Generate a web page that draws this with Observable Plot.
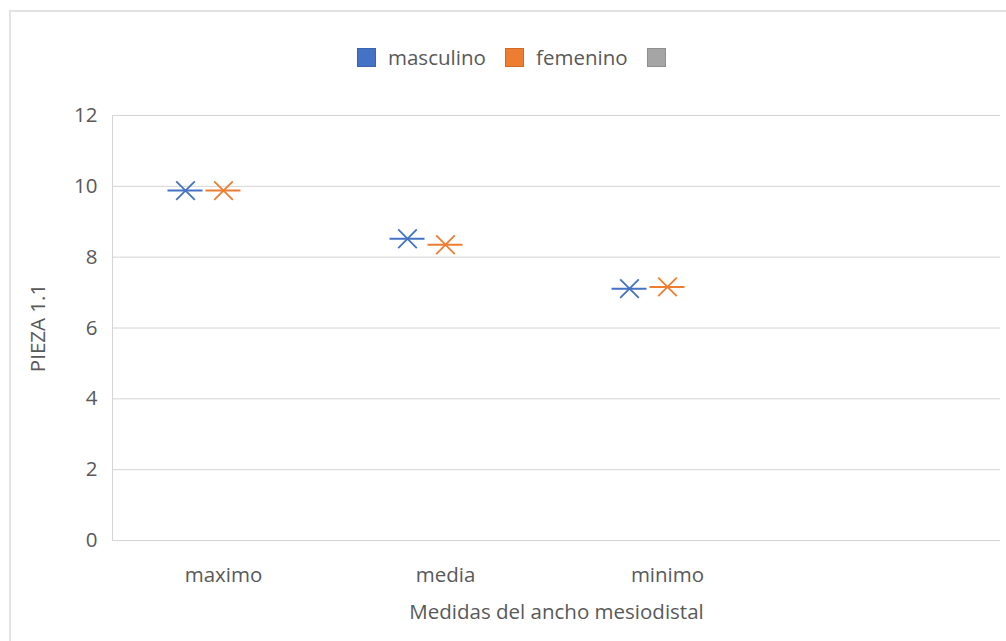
<!DOCTYPE html>
<html>
<head>
<meta charset="utf-8">
<script src="https://cdn.jsdelivr.net/npm/d3@7"></script>
<script src="https://cdn.jsdelivr.net/npm/@observablehq/plot@0.6"></script>
<style>
  body { margin: 0; width: 1006px; height: 641px; overflow: hidden; background: #fff;
         font-family: "Open Sans", sans-serif; position: relative; }
  #border { position: absolute; left: 9px; top: 10px; width: 1100px; height: 700px;
            border: 2px solid #e2e2e2; box-sizing: border-box; pointer-events: none; }
  #legend { position: relative; height: 90px; }
  #legend .item { position: absolute; top: 48px; display: flex; align-items: center; }
  #legend .sw { width: 19px; height: 19px; box-sizing: border-box; border: 1px solid; }
  #legend .lb { margin-left: 12px; font-size: 20.5px; color: #595959; line-height: 19px; }
  #chart { position: relative; }
</style>
</head>
<body>
<div id="border"></div>
<div id="legend"></div>
<div id="chart"></div>
<script>
// Categories on the horizontal axis (the fourth slot is left blank)
const categories = ["maximo", "media", "minimo", ""];
// Series names and colours
const seriesNames = ["masculino", "femenino", ""];
const seriesColors = ["#4472C4", "#ED7D31", "#A5A5A5"];
const seriesBorders = ["#3a64ae", "#d06a25", "#8f8f8f"];
// Values per series, aligned with the first three categories
const masculino = [9.88, 8.52, 7.11];
const femenino = [9.88, 8.35, 7.16];
const yTicks = [0, 2, 4, 6, 8, 10, 12];

const seriesValues = [masculino, femenino, []];
const rows = seriesValues.flatMap((vals, s) =>
  vals.map((v, i) => ({cat: categories[i], series: seriesNames[s], value: v})));

// Legend
const legend = document.getElementById("legend");
const legendLeft = [357, 505, 647];
seriesNames.forEach((name, i) => {
  const item = document.createElement("div");
  item.className = "item";
  item.style.left = legendLeft[i] + "px";
  const sw = document.createElement("div");
  sw.className = "sw";
  sw.style.background = seriesColors[i];
  sw.style.borderColor = seriesBorders[i];
  item.appendChild(sw);
  if (name) {
    const lb = document.createElement("span");
    lb.className = "lb";
    lb.textContent = name;
    item.appendChild(lb);
  }
  legend.appendChild(item);
});

// Each series sits in its own slot inside the category band
const slot = 38;
const lineLen = 35;
const bandW = (1006 - 112 - 6) / categories.length;
const inset = (bandW - lineLen) / 2;

const marks = [
  Plot.gridY(yTicks, {stroke: "#d4d4d4", strokeOpacity: 1, strokeWidth: 1}),
  Plot.frame({anchor: "left", stroke: "#d4d4d4", strokeOpacity: 1}),
  Plot.axisY(yTicks, {tickSize: 0, tickPadding: 15, label: "PIEZA 1.1", labelAnchor: "center", labelOffset: 82, labelArrow: false}),
  Plot.axisX({tickSize: 0, tickPadding: 27, tickFormat: d => d, label: "Medidas del ancho mesiodistal", labelAnchor: "center", labelOffset: 78, labelArrow: false})
];
seriesNames.forEach((name, s) => {
  const data = rows.filter(d => d.series === name);
  const dx = (s - 1) * slot;
  marks.push(Plot.tickY(data, {x: "cat", y: "value", stroke: seriesColors[s], strokeWidth: 2, dx, insetLeft: inset, insetRight: inset}));
  marks.push(Plot.dot(data, {x: "cat", y: "value", symbol: "times", r: 8.5, stroke: seriesColors[s], strokeWidth: 1.8, dx}));
});

const chart = Plot.plot({
  width: 1006,
  height: 551,
  marginTop: 25,
  marginBottom: 101,
  marginLeft: 112,
  marginRight: 6,
  style: {fontFamily: "Open Sans, sans-serif", fontSize: "20.5px", color: "#595959", background: "transparent", overflow: "visible"},
  x: {type: "band", domain: categories, padding: 0, label: null},
  y: {domain: [0, 12], label: null},
  marks
});
document.getElementById("chart").appendChild(chart);
</script>
</body>
</html>
